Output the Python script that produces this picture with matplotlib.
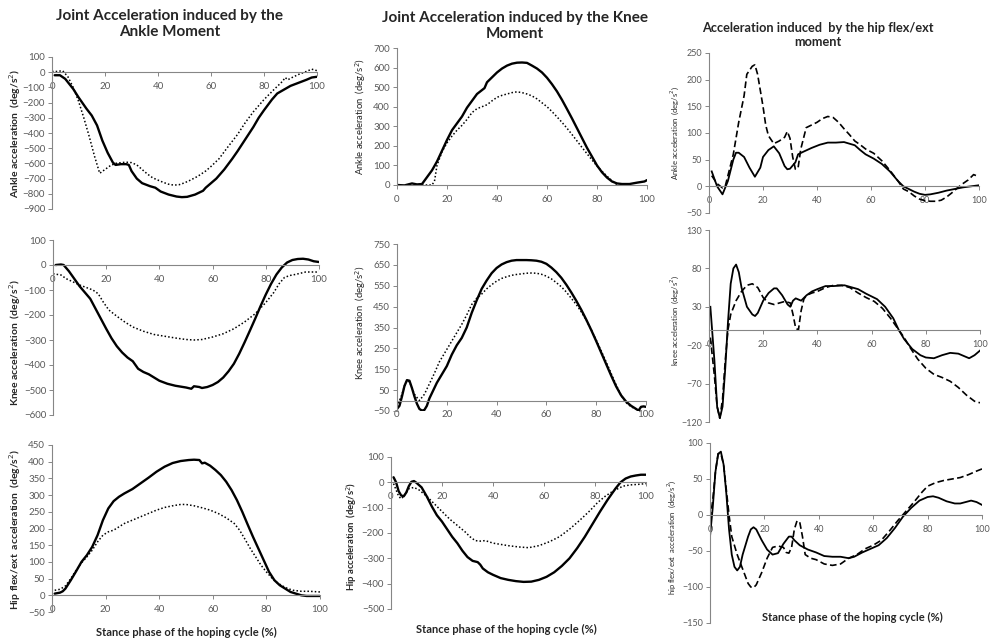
import matplotlib.pyplot as plt

plt.rcParams['font.family'] = ['Lato', 'DejaVu Sans']

# ---- data ----
# Row 1, col 1: ankle acceleration induced by the ankle moment
a_sx = [1, 3, 5, 8, 10, 13, 15, 17, 19, 21, 23, 24, 26, 28, 29, 30, 32, 34, 37, 39, 41, 44, 47, 49, 51, 54, 57,
        58, 60, 62, 65, 68, 70, 73, 76, 78, 80, 83, 85, 88, 90, 93, 96, 98, 100]
a_sy = [-20, -20, -44, -110, -165, -240, -285, -350, -450, -530, -595, -610, -605, -605, -610, -650, -700, -730,
        -750, -760, -785, -805, -818, -822, -820, -805, -780, -760, -730, -700, -640, -570, -520, -440, -360, -300,
        -250, -180, -140, -110, -90, -70, -50, -35, -30]
a_dx = [0, 2, 4, 5, 6, 8, 10, 12, 14, 16, 18, 20, 22, 24, 26, 28, 30, 32, 34, 36, 38, 40, 42, 44, 46, 48, 50, 52,
        55, 58, 60, 63, 66, 70, 73, 76, 80, 84, 87, 88, 89, 90, 93, 96, 98, 100]
a_dy = [5, 5, 10, -10, -30, -100, -190, -300, -420, -550, -665, -640, -615, -600, -595, -592, -595, -610, -640,
        -670, -695, -710, -725, -737, -743, -740, -728, -712, -685, -650, -620, -570, -500, -410, -330, -260, -180,
        -110, -60, -35, -50, -40, -15, 5, 20, 10]

# Row 1, col 2: ankle acceleration induced by the knee moment
b_sx = [0, 3, 6, 8, 10, 12, 14, 16, 18, 20, 22, 24, 26, 28, 30, 32, 34, 35, 36, 38, 40, 42, 44, 46, 48, 50, 52, 54,
        56, 58, 60, 62, 64, 66, 68, 70, 72, 74, 76, 78, 80, 82, 84, 86, 88, 90, 93, 96, 99, 100]
b_sy = [0, -2, 8, 3, 5, 40, 75, 120, 175, 230, 280, 315, 350, 395, 430, 465, 485, 495, 525, 550, 575, 595, 610, 620,
        625, 626, 624, 610, 595, 575, 548, 515, 478, 435, 388, 340, 290, 240, 190, 145, 100, 65, 38, 18, 8, 5, 5, 12,
        18, 25]
b_dx = [10, 14, 15, 16, 18, 20, 22, 24, 26, 28, 30, 32, 34, 36, 38, 40, 42, 44, 46, 48, 50, 52, 54, 56, 58, 60, 62,
        64, 66, 68, 70, 72, 74, 76, 78, 80, 82, 84, 86, 88]
b_dy = [0, 0, 20, 100, 170, 215, 250, 280, 305, 335, 370, 390, 400, 410, 430, 448, 458, 465, 472, 476, 472, 465,
        455, 440, 420, 400, 375, 348, 320, 290, 258, 225, 192, 160, 128, 97, 70, 45, 22, 2]

# Row 1, col 3: ankle acceleration induced by the hip flex/ext moment
c_sx = [1, 3, 5, 7, 9, 10, 11, 13, 15, 17, 19, 20, 22, 24, 26, 28, 29, 30, 32, 33, 35, 38, 41, 44, 47, 50, 52, 54,
        56, 58, 61, 64, 67, 70, 72, 74, 76, 78, 80, 82, 85, 88, 91, 94, 97, 100]
c_sy = [28, 0, -15, 10, 50, 63, 63, 55, 35, 18, 35, 55, 68, 75, 62, 38, 32, 33, 45, 60, 65, 72, 78, 82, 82, 83, 80,
        77, 68, 60, 52, 42, 28, 10, 0, -5, -10, -14, -16, -15, -12, -8, -5, -2, 0, 2]
c_dx = [1, 3, 5, 6, 7, 9, 11, 13, 14, 16, 17, 18, 20, 21, 22, 24, 26, 28, 29, 30, 31, 32, 33, 34, 36, 38, 40, 42,
        44, 46, 48, 50, 52, 54, 56, 58, 61, 64, 67, 70, 72, 74, 76, 78, 80, 82, 84, 86, 88, 90, 92, 94, 96, 98, 100]
c_dy = [20, 5, -3, 0, 20, 60, 120, 170, 210, 225, 228, 210, 150, 115, 95, 80, 85, 92, 103, 90, 55, 32, 35, 70, 110,
        115, 120, 127, 131, 129, 120, 108, 97, 85, 78, 70, 62, 48, 30, 10, -5, -10, -18, -24, -27, -28, -28, -26,
        -20, -12, -3, 5, 12, 22, 18]

# Row 2, col 1: knee acceleration induced by the ankle moment
d_sx = [1, 3, 4, 6, 8, 10, 12, 14, 16, 18, 20, 22, 24, 26, 28, 30, 32, 34, 36, 38, 40, 43, 46, 50, 52, 53, 55, 56,
        58, 60, 62, 64, 66, 68, 70, 72, 74, 76, 78, 80, 82, 84, 86, 88, 90, 92, 94, 96, 98, 100]
d_sy = [0, 2, 0, -25, -55, -85, -110, -135, -175, -215, -255, -293, -325, -350, -370, -385, -415, -428, -437, -450,
        -463, -475, -483, -490, -495, -485, -488, -492, -488, -480, -468, -450, -425, -395, -355, -310, -263, -215,
        -165, -118, -75, -38, -10, 10, 20, 24, 25, 22, 15, 12]
d_dx = [0, 3, 5, 8, 10, 12, 15, 17, 19, 21, 24, 27, 30, 34, 38, 42, 46, 50, 53, 56, 60, 64, 68, 72, 76, 80, 83, 85,
        87, 89, 91, 93, 95, 97, 99, 100]
d_dy = [-35, -40, -55, -70, -80, -88, -100, -115, -150, -180, -205, -228, -248, -265, -278, -285, -292, -298, -300,
        -298, -288, -275, -255, -228, -195, -150, -110, -75, -50, -42, -38, -33, -28, -28, -28, -25]

# Row 2, col 2: knee acceleration induced by the knee moment
e_sx = [0, 1, 2, 3, 4, 5, 6, 7, 8, 9, 10, 11, 12, 13, 15, 16, 18, 20, 22, 24, 26, 28, 30, 32, 34, 36, 38, 40, 42,
        44, 46, 48, 50, 52, 54, 56, 58, 60, 62, 64, 66, 68, 70, 72, 74, 76, 78, 80, 82, 84, 86, 88, 90, 92, 94, 96,
        97, 98, 99, 100]
e_sy = [-40, -25, 20, 70, 98, 95, 60, 20, -15, -40, -48, -45, -25, 10, 60, 85, 125, 165, 220, 265, 300, 350, 420,
        480, 535, 575, 610, 635, 652, 663, 670, 673, 673, 673, 672, 670, 665, 655, 637, 615, 588, 555, 518, 478,
        435, 388, 338, 285, 230, 175, 120, 68, 25, -5, -25, -40, -48, -30, -28, -30]
e_dx = [0, 2, 3, 4, 5, 7, 9, 11, 13, 15, 17, 20, 23, 26, 28, 30, 32, 34, 36, 38, 40, 42, 44, 46, 48, 50, 52, 54, 56,
        58, 60, 62, 64, 66, 68, 70, 72, 74, 76, 78, 80, 82, 84, 86, 88, 90, 92, 94, 96, 98]
e_dy = [-30, 30, 70, 95, 90, 30, 0, 30, 80, 130, 185, 245, 305, 365, 410, 460, 490, 510, 535, 555, 572, 585, 593,
        600, 604, 607, 610, 611, 610, 605, 596, 583, 565, 545, 520, 490, 460, 425, 385, 340, 290, 238, 185, 130,
        75, 25, -10, -30, -40, -50]

# Row 2, col 3: knee acceleration induced by the hip flex/ext moment
f_sx = [0.5, 2, 3, 4, 5, 6, 7, 8, 9, 10, 11, 12, 14, 16, 17, 18, 20, 22, 24, 25, 27, 29, 30, 31, 32, 34, 36, 38, 40,
        43, 46, 50, 52, 55, 58, 62, 65, 68, 70, 72, 75, 78, 80, 83, 86, 89, 92, 94, 96, 98, 100]
f_sy = [30, -40, -100, -115, -100, -50, 10, 60, 80, 85, 75, 55, 30, 20, 18, 22, 38, 48, 54, 54, 45, 33, 30, 38, 41,
        38, 45, 50, 53, 57, 57, 58, 56, 53, 47, 40, 30, 15, 0, -12, -25, -33, -36, -37, -33, -30, -31, -34, -37,
        -33, -27]
f_dx = [0.5, 2, 3, 4, 5, 6, 7, 8, 10, 12, 14, 16, 18, 20, 22, 24, 26, 28, 30, 31, 32, 33, 34, 35, 36, 38, 40, 43,
        46, 49, 52, 55, 58, 61, 64, 67, 70, 72, 74, 77, 80, 83, 86, 89, 92, 95, 98, 100]
f_dy = [-10, -60, -100, -115, -90, -40, 0, 20, 38, 50, 58, 60, 55, 42, 35, 33, 35, 37, 35, 20, 2, 0, 25, 40, 45,
        48, 50, 55, 58, 58, 55, 48, 42, 37, 28, 15, 0, -10, -22, -38, -50, -58, -62, -67, -75, -85, -93, -95]

# Row 3, col 1: hip flex/ext acceleration induced by the ankle moment
g_sx = [1, 3, 4, 5, 7, 9, 11, 13, 15, 17, 19, 21, 23, 25, 27, 30, 33, 36, 39, 42, 45, 48, 51, 53, 55, 56, 57, 59,
        61, 63, 65, 67, 69, 71, 73, 75, 77, 79, 81, 83, 85, 87, 89, 91, 93, 95, 98, 100]
g_sy = [5, 8, 12, 20, 45, 72, 100, 120, 145, 180, 225, 260, 282, 295, 305, 318, 335, 352, 370, 385, 396, 402, 405,
        406, 405, 395, 397, 388, 375, 360, 340, 315, 285, 250, 212, 175, 140, 105, 70, 45, 30, 20, 10, 5, 0, -2,
        -2, -2]
g_dx = [1, 3, 5, 7, 9, 11, 13, 15, 17, 19, 21, 23, 25, 27, 30, 33, 36, 39, 42, 45, 48, 50, 53, 56, 59, 62, 65, 68,
        70, 72, 74, 76, 78, 80, 82, 84, 86, 88, 90, 93, 96, 100]
g_dy = [15, 18, 28, 50, 75, 97, 115, 135, 160, 180, 190, 195, 205, 215, 225, 235, 245, 255, 263, 268, 272, 272,
        268, 262, 255, 245, 232, 215, 195, 168, 140, 115, 90, 70, 52, 38, 28, 20, 15, 12, 12, 10]

# Row 3, col 2: hip acceleration induced by the knee moment
h_sx = [1, 2, 3, 4, 5, 6, 7, 8, 9, 10, 12, 14, 16, 18, 20, 22, 24, 26, 28, 30, 32, 34, 35, 36, 38, 40, 43, 46, 49,
        52, 55, 58, 61, 64, 67, 70, 73, 76, 79, 82, 85, 88, 90, 92, 94, 96, 98, 100]
h_sy = [20, 0, -35, -52, -55, -40, -15, 2, 5, -2, -20, -55, -95, -130, -155, -185, -215, -240, -270, -295, -310,
        -315, -325, -340, -355, -365, -378, -385, -390, -393, -392, -385, -373, -355, -330, -300, -260, -215, -165,
        -115, -68, -25, 0, 15, 23, 27, 30, 30]
h_dx = [1, 2, 3, 4, 5, 7, 9, 11, 14, 17, 20, 23, 26, 29, 31, 33, 35, 37, 40, 43, 46, 50, 54, 58, 62, 66, 70, 74,
        78, 81, 84, 87, 89, 91, 94, 97, 100]
h_dy = [-5, -30, -55, -65, -55, -25, -20, -30, -55, -85, -115, -145, -170, -195, -215, -230, -232, -230, -240,
        -245, -250, -255, -258, -250, -235, -215, -185, -150, -112, -80, -55, -35, -25, -15, -10, -8, -5]

# Row 3, col 3: hip flex/ext acceleration induced by the hip flex/ext moment
i_sx = [0, 1, 2, 3, 4, 5, 6, 7, 8, 9, 10, 11, 12, 14, 15, 16, 17, 19, 21, 23, 25, 27, 29, 30, 31, 33, 36, 39, 42,
        45, 48, 51, 53, 56, 59, 62, 65, 68, 71, 74, 77, 80, 82, 84, 87, 90, 92, 94, 96, 98, 100]
i_sy = [-30, 10, 60, 85, 88, 70, 30, -20, -55, -72, -77, -72, -55, -30, -20, -17, -20, -35, -48, -55, -53, -40,
        -30, -30, -35, -42, -48, -52, -57, -58, -58, -60, -58, -52, -47, -42, -32, -18, -2, 10, 20, 25, 26, 24, 19,
        16, 16, 18, 20, 18, 14]
i_dx = [0, 1, 2, 3, 4, 5, 6, 7, 8, 10, 12, 14, 15, 16, 17, 19, 21, 23, 25, 27, 28, 29, 30, 31, 32, 33, 34, 35, 37,
        39, 42, 45, 48, 51, 54, 57, 60, 63, 66, 69, 72, 75, 78, 80, 83, 86, 89, 92, 95, 98, 100]
i_dy = [-5, 20, 60, 85, 85, 70, 35, 0, -30, -55, -75, -95, -100, -101, -97, -80, -60, -45, -43, -45, -52, -53, -45,
        -20, -8, -10, -30, -55, -60, -62, -68, -70, -68, -60, -55, -47, -42, -35, -22, -8, 5, 18, 32, 40, 45, 48,
        50, 52, 56, 61, 64]

x_ticks = [0, 20, 40, 60, 80, 100]
xlabel = 'Stance phase of the hoping cycle (%)'

W, H = 991, 640
fig = plt.figure(figsize=(W / 100, H / 100), dpi=100)

AXIS_C = '#868686'
TICK_C = '#595959'


def make_panel(l, r, t, b, ylim, ystep, tick_fs=7):
    ax = fig.add_axes([l / W, 1 - b / H, (r - l) / W, (b - t) / H])
    ax.set_xlim(0, 100)
    ax.set_ylim(*ylim)
    ax.set_yticks(list(range(ylim[0], ylim[1] + 1, ystep)))
    ax.set_xticks(x_ticks)
    for s in ['top', 'right']:
        ax.spines[s].set_visible(False)
    ax.spines['left'].set_color(AXIS_C)
    ax.spines['bottom'].set_color(AXIS_C)
    ax.spines['left'].set_linewidth(0.8)
    ax.spines['bottom'].set_linewidth(0.8)
    ax.spines['bottom'].set_position(('data', 0))
    ax.tick_params(axis='both', direction='out', length=3, width=0.7, color=AXIS_C,
                   labelcolor=TICK_C, labelsize=tick_fs, pad=2)
    ax.tick_params(axis='x', pad=4)
    ax.patch.set_alpha(0)
    return ax


solid = dict(color='black', lw=1.7, solid_capstyle='round')
dotted = dict(color='black', lw=1.1, linestyle=(0, (1, 1.4)))
dashed = dict(color='black', lw=1.2, linestyle=(0, (4, 2)))

# column 1
ax = make_panel(52, 317, 57, 209, (-900, 100), 100)
ax.plot(a_dx, a_dy, **dotted)
ax.plot(a_sx, a_sy, **solid)
ax = make_panel(53, 319, 240, 415, (-600, 100), 100)
ax.plot(d_dx, d_dy, **dotted)
ax.plot(d_sx, d_sy, **solid)
ax = make_panel(52, 320, 445, 612, (-50, 450), 50)
ax.plot(g_dx, g_dy, **dotted)
ax.plot(g_sx, g_sy, **solid)

# column 2
ax = make_panel(397, 647, 48, 185, (0, 700), 100)
ax.plot(b_dx, b_dy, **dotted)
ax.plot(b_sx, b_sy, **solid)
ax = make_panel(397, 646, 244, 411, (-50, 750), 100)
ax.plot(e_dx, e_dy, **dotted)
ax.plot(e_sx, e_sy, **solid)
ax = make_panel(391, 646, 457, 609, (-500, 100), 100)
ax.plot(h_dx, h_dy, **dotted)
ax.plot(h_sx, h_sy, **solid)

# column 3
ax = make_panel(709, 979, 53, 213, (-50, 250), 50, tick_fs=6.5)
ax.plot(c_dx, c_dy, **dashed)
ax.plot(c_sx, c_sy, color='black', lw=1.3)
ax = make_panel(709, 980, 230, 422, (-120, 130), 50, tick_fs=6.5)
ax.plot(f_dx, f_dy, **dashed)
ax.plot(f_sx, f_sy, color='black', lw=1.3)
ax = make_panel(710, 982, 443, 623, (-150, 100), 50, tick_fs=6.5)
ax.plot(i_dx, i_dy, **dashed)
ax.plot(i_sx, i_sy, color='black', lw=1.3)

# titles
fig.text(170 / W, 1 - 24 / H, 'Joint Acceleration induced by the\nAnkle Moment', ha='center', va='center',
         fontsize=11, fontweight='bold', color='#262626', linespacing=1.15)
fig.text(515 / W, 1 - 26 / H, 'Joint Acceleration induced by the Knee\nMoment', ha='center', va='center',
         fontsize=11, fontweight='bold', color='#262626', linespacing=1.15)
fig.text(818 / W, 1 - 35 / H, 'Acceleration induced  by the hip flex/ext\nmoment', ha='center', va='center',
         fontsize=9.2, fontweight='bold', color='#262626', linespacing=1.1)

# y labels
ylab = [(15, 133, 'Ankle acceleration  (deg/s$^2$)', 7.5, 'bold'),
        (15, 343, 'Knee acceleration  (deg/s$^2$)', 7.5, 'bold'),
        (15, 529, 'Hip flex/ext  acceleration  (deg/s$^2$)', 7.5, 'bold'),
        (361, 117, 'Ankle acceleration  (deg/s$^2$)', 6.8, 'normal'),
        (361, 323, 'Knee acceleration  (deg/s$^2$)', 6.8, 'normal'),
        (352, 536, 'Hip acceleration  (deg/s$^2$)', 6.8, 'bold'),
        (675, 133, 'Ankle acceleration  (deg/s$^2$)', 5.5, 'normal'),
        (675, 320, 'knee acceleration  (deg/s$^2$)', 5.5, 'normal'),
        (672, 537, 'hip flex/ext  acceleration  (deg/s$^2$)', 5.5, 'normal')]
for x, y, s, fs, fw in ylab:
    fig.text(x / W, 1 - y / H, s, rotation=90, ha='center', va='center', fontsize=fs,
             fontweight=fw, color='#262626')

# x labels
for x, y in [(186, 632), (506, 629), (852, 617)]:
    fig.text(x / W, 1 - y / H, xlabel, ha='center', va='center', fontsize=8,
             fontweight='bold', color='#262626')

fig.savefig('out.png', dpi=100)
